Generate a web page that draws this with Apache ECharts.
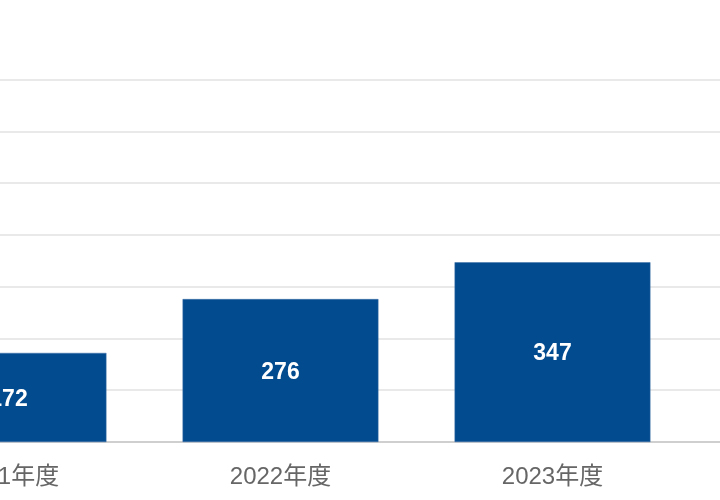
<!DOCTYPE html>
<html>
<head>
<meta charset="utf-8">
<script src="https://cdn.jsdelivr.net/npm/echarts@6/dist/echarts.min.js"></script>
<style>
html,body{margin:0;padding:0;background:#fff;}
#chart{width:720px;height:500px;}
</style>
</head>
<body>
<div id="chart"></div>
<script>
// Categories (the 4th slot is an empty placeholder off to the right of the crop)
var categories = ['2021年度', '2022年度', '2023年度', ''];
var values = [172, 276, 347, '-'];
var yMin = 0, yMax = 700, yInterval = 100;

var FONT = '"Liberation Sans", "Noto Sans CJK JP", sans-serif';
var chart = echarts.init(document.getElementById('chart'), null, {renderer: 'canvas'});
chart.setOption({
  animation: false,
  backgroundColor: '#ffffff',
  textStyle: {fontFamily: FONT},
  grid: {left: -127.5, right: -240.5, top: 79.5, bottom: 58, containLabel: false, outerBoundsMode: 'none'},
  xAxis: {
    type: 'category',
    data: categories,
    axisTick: {show: false},
    axisLine: {show: true, lineStyle: {color: '#c6c6c6', width: 1.5}},
    axisLabel: {color: '#666666', fontSize: 24, margin: 23, fontFamily: FONT}
  },
  yAxis: {
    type: 'value',
    min: yMin, max: yMax, interval: yInterval,
    axisLabel: {show: false},
    axisLine: {show: false},
    axisTick: {show: false},
    splitLine: {lineStyle: {color: '#e2e2e2', width: 1.5}}
  },
  series: [{
    type: 'bar',
    data: values,
    barCategoryGap: '28%',
    itemStyle: {color: '#034B8F', borderColor: '#3a6ea6', borderWidth: 0.5},
    label: {
      show: true,
      position: 'inside',
      offset: [0, 2],
      color: '#ffffff',
      fontSize: 23,
      fontWeight: 'bold',
      fontFamily: FONT
    }
  }]
});
</script>
</body>
</html>
